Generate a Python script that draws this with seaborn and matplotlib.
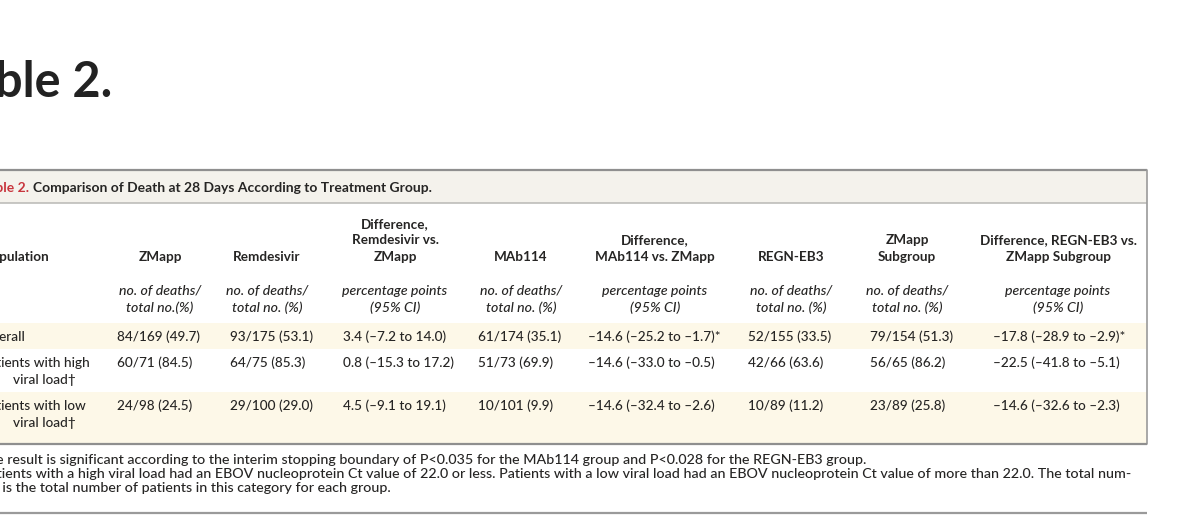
import matplotlib
matplotlib.use("Agg")
import matplotlib.pyplot as plt
import seaborn as sns
import pandas as pd

# ---------------- data ----------------
row_label_1 = ["Overall", "Patients with high", "Patients with low"]
row_label_2 = ["", "viral load\u2020", "viral load\u2020"]

zmapp_deaths = [84, 60, 24]
zmapp_total = [169, 71, 98]
zmapp_pct = [49.7, 84.5, 24.5]

rem_deaths = [93, 64, 29]
rem_total = [175, 75, 100]
rem_pct = [53.1, 85.3, 29.0]

rem_diff = [3.4, 0.8, 4.5]
rem_lo = [-7.2, -15.3, -9.1]
rem_hi = [14.0, 17.2, 19.1]
rem_sig = [False, False, False]

mab_deaths = [61, 51, 10]
mab_total = [174, 73, 101]
mab_pct = [35.1, 69.9, 9.9]

mab_diff = [-14.6, -14.6, -14.6]
mab_lo = [-25.2, -33.0, -32.4]
mab_hi = [-1.7, -0.5, -2.6]
mab_sig = [True, False, False]

regn_deaths = [52, 42, 10]
regn_total = [155, 66, 89]
regn_pct = [33.5, 63.6, 11.2]

sub_deaths = [79, 56, 23]
sub_total = [154, 65, 89]
sub_pct = [51.3, 86.2, 25.8]

regn_diff = [-17.8, -22.5, -14.6]
regn_lo = [-28.9, -41.8, -32.6]
regn_hi = [-2.9, -5.1, -2.3]
regn_sig = [True, False, False]

col_headers = ["ZMapp", "Remdesivir", "Difference,\nRemdesivir vs.\nZMapp", "MAb114",
               "Difference,\nMAb114 vs. ZMapp", "REGN-EB3", "ZMapp\nSubgroup",
               "Difference, REGN-EB3 vs.\nZMapp Subgroup"]
col_units = ["no. of deaths/\ntotal no.(%)", "no. of deaths/\ntotal no. (%)",
             "percentage points\n(95% CI)", "no. of deaths/\ntotal no. (%)",
             "percentage points\n(95% CI)", "no. of deaths/\ntotal no. (%)",
             "no. of deaths/\ntotal no. (%)", "percentage points\n(95% CI)"]

big_title = "Table 2."
table_label = "Table 2."
table_title = "Comparison of Death at 28 Days According to Treatment Group."
footnotes = [
    "* The result is significant according to the interim stopping boundary of P<0.035 for the MAb114 group and P<0.028 for the REGN-EB3 group.",
    "\u2020 Patients with a high viral load had an EBOV nucleoprotein Ct value of 22.0 or less. Patients with a low viral load had an EBOV nucleoprotein Ct value of more than 22.0. The total num-",
    "ber is the total number of patients in this category for each group.",
]


def num(v):
    return f"{v:.1f}".replace("-", "\u2013")


def count_cells(d, t, p):
    return [f"{a}/{b} ({num(c)})" for a, b, c in zip(d, t, p)]


def diff_cells(m, lo, hi, sig):
    return [f"{num(a)} ({num(b)} to {num(c)})" + ("*" if s else "") for a, b, c, s in zip(m, lo, hi, sig)]


cells = pd.DataFrame({
    "ZMapp": count_cells(zmapp_deaths, zmapp_total, zmapp_pct),
    "Remdesivir": count_cells(rem_deaths, rem_total, rem_pct),
    "DiffRem": diff_cells(rem_diff, rem_lo, rem_hi, rem_sig),
    "MAb114": count_cells(mab_deaths, mab_total, mab_pct),
    "DiffMab": diff_cells(mab_diff, mab_lo, mab_hi, mab_sig),
    "REGN": count_cells(regn_deaths, regn_total, regn_pct),
    "ZSub": count_cells(sub_deaths, sub_total, sub_pct),
    "DiffRegn": diff_cells(regn_diff, regn_lo, regn_hi, regn_sig),
})

# ---------------- figure ----------------
sns.set_theme(style="white")
plt.rcParams["font.family"] = ["Lato", "DejaVu Sans"]

W, H = 1200, 527
fig = plt.figure(figsize=(12, 5.27), dpi=100)
fig.patch.set_facecolor("white")
ax = fig.add_axes([0, 0, 1, 1])
ax.set_xlim(0, W)
ax.set_ylim(H, 0)
ax.axis("off")
renderer = fig.canvas.get_renderer()

TXT = "#262524"
RED = "#c8353d"
LINE = "#8f8f8f"
TITLE_BG = "#f4f2ec"
ROW_BG = "#fdf8e8"
BODY_W = 500


def tw(s, size, weight="normal", style="normal"):
    t = ax.text(0, 0, s, fontsize=size, fontweight=weight, fontstyle=style)
    w = t.get_window_extent(renderer).width
    t.remove()
    return w


def fit(s, target, weight="normal", style="normal", base=10.0):
    return base * target / tw(s, base, weight, style)


hdr_size = fit("Difference, REGN-EB3 vs.", 157, "bold")
data_size = fit("84/169 (49.7)", 83, BODY_W)
ital_size = fit("percentage points", 105, BODY_W, "italic")
title_size = fit("Comparison of Death at 28 Days According to Treatment G", 367, "bold")
vis2 = footnotes[1][5:]
foot_size = fit(vis2, 1131, BODY_W)

# ---------------- backgrounds & rules ----------------
RIGHT = 1147
ax.add_patch(plt.Rectangle((0, 170), RIGHT, 33, color=TITLE_BG, lw=0, zorder=0))
ax.add_patch(plt.Rectangle((0, 323), RIGHT, 26, color=ROW_BG, lw=0, zorder=0))
ax.add_patch(plt.Rectangle((0, 392), RIGHT, 52, color=ROW_BG, lw=0, zorder=0))
ax.plot([0, RIGHT], [170, 170], color=LINE, lw=1.6, solid_capstyle="butt")
ax.plot([0, RIGHT], [203, 203], color="#b8b8b4", lw=1.1, solid_capstyle="butt")
ax.plot([RIGHT, RIGHT], [170, 444], color="#9a9a9a", lw=1.2)
ax.plot([0, RIGHT], [444, 444], color=LINE, lw=1.6, solid_capstyle="butt")
ax.plot([0, RIGHT], [513, 513], color="#9a9a9a", lw=1.6, solid_capstyle="butt")

# ---------------- big heading ----------------
ax.text(112, 97, big_title, fontsize=35, fontweight="bold", color="#222222",
        ha="right", va="baseline")

# ---------------- table title ----------------
ax.text(29, 188, table_label, fontsize=title_size, fontweight="bold", color=RED,
        ha="right", va="center")
ax.text(33, 188, table_title, fontsize=title_size, fontweight="bold", color=TXT,
        ha="left", va="center")

# ---------------- column headers ----------------
centers = [160, 267, 395, 521, 655, 791, 907, 1058]
lefts = [117, 230, 343, 478, 588, 748, 870, 993]
LH = 16.5
for cx, h, u in zip(centers, col_headers, col_units):
    lines = h.split("\n")
    n = len(lines)
    for i, ln in enumerate(lines):
        ax.text(cx, 257 - LH * (n - 1 - i), ln, fontsize=hdr_size, fontweight="bold",
                color=TXT, ha="center", va="center")
    for i, ln in enumerate(u.split("\n")):
        ax.text(cx, 291 + 16.5 * i, ln, fontsize=ital_size, fontstyle="italic",
                fontweight=BODY_W, color=TXT, ha="center", va="center")

pop_x = 0 - (tw("Population", hdr_size, "bold") - tw("pulation", hdr_size, "bold"))
ax.text(pop_x, 257, "Population", fontsize=hdr_size, fontweight="bold", color=TXT,
        ha="left", va="center")

# ---------------- rows ----------------
row_y1 = [337, 363, 406]
lab_x = 1 - (tw("Patients with high", data_size, BODY_W) - tw("ients with high", data_size, BODY_W))
for r in range(3):
    ax.text(lab_x, row_y1[r], row_label_1[r], fontsize=data_size, fontweight=BODY_W,
            color=TXT, ha="left", va="center")
    if row_label_2[r]:
        ax.text(13, row_y1[r] + 17, row_label_2[r], fontsize=data_size, fontweight=BODY_W,
                color=TXT, ha="left", va="center")
    for c, col in enumerate(cells.columns):
        ax.text(lefts[c], row_y1[r], cells.iloc[r, c], fontsize=data_size, fontweight=BODY_W,
                color=TXT, ha="left", va="center")

# ---------------- footnotes ----------------
f1x = -4 - (tw("* The", foot_size, BODY_W) - tw("e", foot_size, BODY_W))
f2x = 2 - (tw("\u2020 Patients", foot_size, BODY_W) - tw("ients", foot_size, BODY_W))
f3x = 2 - (tw("ber is", foot_size, BODY_W) - tw("is", foot_size, BODY_W))
for x, y, s in zip([f1x, f2x, f3x], [460, 474, 488], footnotes):
    ax.text(x, y, s, fontsize=foot_size, fontweight=BODY_W, color=TXT, ha="left", va="center")

fig.savefig("out.png", dpi=100, facecolor="white")
